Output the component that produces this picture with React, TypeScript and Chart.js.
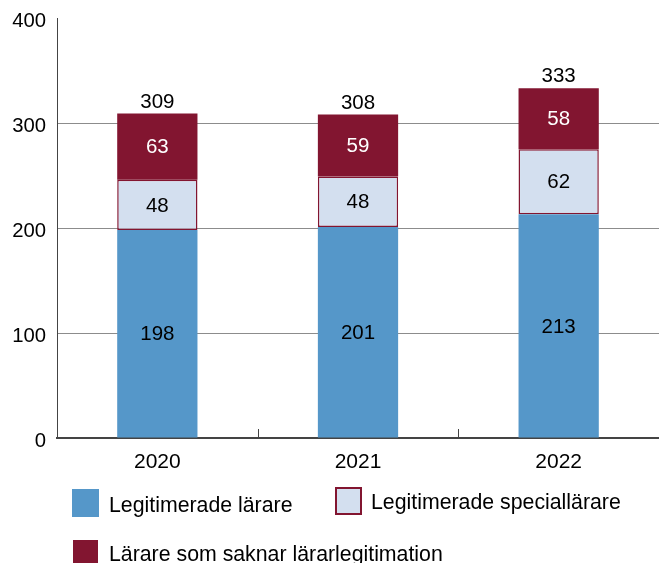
import React, { useEffect, useRef } from "react";
import { Chart, registerables } from "chart.js";

Chart.register(...registerables);

const categories = ["2020", "2021", "2022"];
const legitimerade = [198, 201, 213];
const special = [48, 48, 62];
const saknar = [63, 59, 58];
const yTicks = [0, 100, 200, 300, 400];
const seriesNames = [
  "Legitimerade lärare",
  "Legitimerade speciallärare",
  "Lärare som saknar lärarlegitimation",
];

const BLUE = "#5597C9";
const LIGHT = "#D3DFEF";
const RED = "#821530";
const FONT = "Liberation Sans, Arial, sans-serif";

const overlay = {
  id: "overlay",
  afterDatasetsDraw(chart: any) {
    const ctx = chart.ctx;
    const x = chart.scales.x;
    const y = chart.scales.y;
    ctx.save();
    // upward category ticks on x axis
    ctx.strokeStyle = "#444";
    ctx.lineWidth = 1;
    for (let i = 1; i < categories.length; i++) {
      const px = Math.round((x.getPixelForValue(i - 1) + x.getPixelForValue(i)) / 2) + 0.5;
      ctx.beginPath();
      ctx.moveTo(px, y.bottom);
      ctx.lineTo(px, y.bottom - 9);
      ctx.stroke();
    }
    // segment labels
    ctx.font = `20.5px ${FONT}`;
    ctx.textAlign = "center";
    ctx.textBaseline = "middle";
    chart.data.datasets.forEach((ds: any, di: number) => {
      const meta = chart.getDatasetMeta(di);
      meta.data.forEach((bar: any, i: number) => {
        const cy = (bar.y + bar.base) / 2;
        ctx.fillStyle = di === 2 ? "#ffffff" : "#000000";
        ctx.fillText(String(ds.data[i]), bar.x, cy + 1);
      });
    });
    // totals
    ctx.fillStyle = "#000";
    ctx.textBaseline = "alphabetic";
    categories.forEach((_, i) => {
      const total = legitimerade[i] + special[i] + saknar[i];
      const px = x.getPixelForValue(i);
      const py = y.getPixelForValue(total);
      ctx.fillText(String(total), px, py - 6);
    });
    // legend
    const items = [
      { label: seriesNames[0], fill: BLUE, stroke: null, sx: 72, sy: 489, w: 27, h: 28, tx: 109, ty: 512 },
      { label: seriesNames[1], fill: LIGHT, stroke: RED, sx: 335, sy: 487, w: 27, h: 28, tx: 371, ty: 509 },
      { label: seriesNames[2], fill: RED, stroke: null, sx: 73, sy: 540, w: 25, h: 26, tx: 109, ty: 561 },
    ];
    ctx.font = `21.3px ${FONT}`;
    ctx.textAlign = "left";
    ctx.textBaseline = "alphabetic";
    items.forEach((it) => {
      ctx.fillStyle = it.fill;
      ctx.fillRect(it.sx, it.sy, it.w, it.h);
      if (it.stroke) {
        ctx.strokeStyle = it.stroke;
        ctx.lineWidth = 2;
        ctx.strokeRect(it.sx + 1, it.sy + 1, it.w - 2, it.h - 2);
      }
      ctx.fillStyle = "#000";
      ctx.fillText(it.label, it.tx, it.ty);
    });
    ctx.restore();
  },
};

export default function App() {
  const ref = useRef<HTMLCanvasElement | null>(null);
  useEffect(() => {
    if (!ref.current) return;
    const chart = new Chart(ref.current, {
      type: "bar",
      data: {
        labels: categories,
        datasets: [
          { label: seriesNames[0], data: legitimerade, backgroundColor: BLUE, borderWidth: 0 },
          {
            label: seriesNames[1],
            data: special,
            backgroundColor: LIGHT,
            borderColor: RED,
            borderWidth: 1.5,
            borderSkipped: false,
            inflateAmount: 0,
          },
          { label: seriesNames[2], data: saknar, backgroundColor: RED, borderWidth: 0 },
        ],
      },
      options: {
        responsive: false,
        animation: false,
        devicePixelRatio: 1,
        layout: { padding: { top: 18, right: 0, left: 0, bottom: 0 } },
        datasets: { bar: { barPercentage: 1, categoryPercentage: 0.4 } },
        plugins: { legend: { display: false }, tooltip: { enabled: false } },
        scales: {
          x: {
            stacked: true,
            afterFit: (s: any) => { s.height = 125; s.paddingLeft = 0; s.paddingRight = 0; },
            grid: { display: false, drawTicks: false },
            border: { display: true, color: "#444", width: 2 },
            ticks: { color: "#000", font: { family: FONT, size: 21 }, padding: 12 },
          },
          y: {
            stacked: true,
            min: 0,
            max: 400,
            afterFit: (s: any) => { s.width = 57; s.paddingTop = 0; s.paddingBottom = 0; },
            afterBuildTicks: (s: any) => { s.ticks = yTicks.map((v) => ({ value: v })); },
            grid: {
              drawTicks: false,
              color: (c: any) => (c.tick && (c.tick.value === 0 || c.tick.value === 400) ? "rgba(0,0,0,0)" : "#8c8c8c"),
              lineWidth: 1,
            },
            border: { display: true, color: "#444", width: 1 },
            ticks: { color: "#000", font: { family: FONT, size: 20.3 }, padding: 11, labelOffset: 3 },
          },
        },
      },
      plugins: [overlay],
    });
    return () => chart.destroy();
  }, []);
  return (
    <div style={{ position: "fixed", left: 0, top: 0, width: 659, height: 563, background: "#fff" }}>
      <canvas ref={ref} width={659} height={563} style={{ display: "block" }} />
    </div>
  );
}
